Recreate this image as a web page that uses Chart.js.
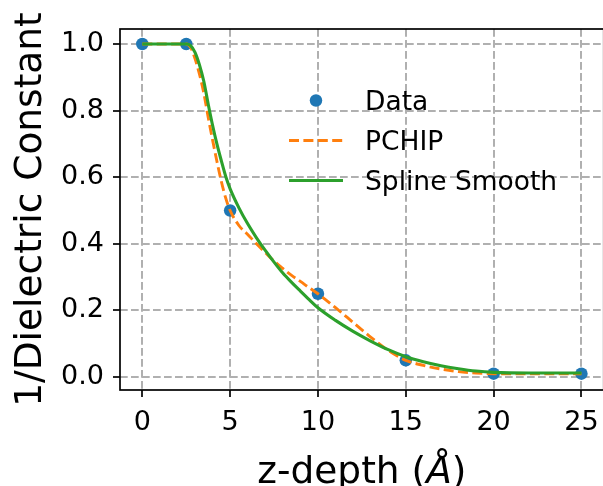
<!DOCTYPE html>
<html><head><meta charset="utf-8">
<script src="https://cdn.jsdelivr.net/npm/chart.js@4.4.1/dist/chart.umd.min.js"></script>
<style>html,body{margin:0;padding:0;background:#fff;overflow:hidden;}#wrap{width:610px;height:486px;position:relative;}</style>
</head><body><div id="wrap"><canvas id="c" width="610" height="486"></canvas></div>
<script>
// ---- data ----
const depthData  = [0, 2.5, 5, 10, 15, 20, 25];
const invEpsData = [1.0, 1.0, 0.5, 0.25, 0.05, 0.01, 0.01];

// PCHIP curve
const pchipDepth  = [0, 2.5, 2.75, 3.0, 3.25, 3.5, 3.75, 4.0, 4.25, 4.5, 4.75, 5.0, 5.5, 6.0, 6.5, 7.0, 7.5, 8.0, 8.5, 9.0, 9.5, 10, 11, 12, 13, 14, 15, 16, 17, 18, 19, 20, 25];
const pchipInvEps = [1.0, 1.0, 0.99, 0.956, 0.91, 0.853, 0.78, 0.712, 0.647, 0.587, 0.537, 0.5, 0.455, 0.428, 0.40, 0.374, 0.348, 0.326, 0.305, 0.287, 0.268, 0.25, 0.208, 0.164, 0.12, 0.08, 0.05, 0.035, 0.024, 0.016, 0.012, 0.01, 0.01];

// Spline-smooth curve
const splineDepth  = [0, 2.5, 2.75, 3.0, 3.25, 3.5, 3.75, 4.0, 4.25, 4.5, 4.75, 5.0, 5.5, 6.0, 6.5, 7.0, 7.5, 8.0, 8.5, 9.0, 9.5, 10, 11, 12, 13, 14, 15, 16, 17, 18, 19, 20, 22, 25];
const splineInvEps = [1.0, 1.0, 0.995, 0.975, 0.938, 0.888, 0.82, 0.756, 0.699, 0.649, 0.602, 0.565, 0.508, 0.46, 0.418, 0.38, 0.345, 0.312, 0.284, 0.258, 0.2325, 0.208, 0.17, 0.137, 0.108, 0.082, 0.061, 0.046, 0.034, 0.025, 0.018, 0.014, 0.012, 0.012];

const xTicks = [0, 5, 10, 15, 20, 25];
const yTicks = [0.0, 0.2, 0.4, 0.6, 0.8, 1.0];
const seriesNames = ['Data', 'PCHIP', 'Spline Smooth'];
const xLabelParts = ['z-depth (', 'Å', ')'];
const yLabel = '1/Dielectric Constant';

const toPts = (xs, ys) => xs.map((x, i) => ({x: x, y: ys[i]}));
const C_BLUE = '#1f77b4', C_ORANGE = '#ff7f0e', C_GREEN = '#2ca02c';
const FONT = "'DejaVu Sans', sans-serif";

const decor = {
  id: 'decor',
  afterDraw(chart) {
    const ctx = chart.ctx, a = chart.chartArea;
    ctx.save();
    // spines
    ctx.strokeStyle = '#000';
    ctx.lineWidth = 1.7;
    ctx.setLineDash([]);
    ctx.strokeRect(a.left, a.top, a.right - a.left, a.bottom - a.top);

    // legend (no frame)
    const hx0 = 289, hx1 = 343, tx = 365;
    const rows = [100.5, 140.5, 180.5];
    ctx.beginPath();
    ctx.fillStyle = C_BLUE;
    ctx.arc((hx0 + hx1) / 2, rows[0], 6.25, 0, Math.PI * 2);
    ctx.fill();
    ctx.lineWidth = 2.9;
    ctx.strokeStyle = C_ORANGE;
    ctx.setLineDash([10, 4.4]);
    ctx.beginPath(); ctx.moveTo(hx0, rows[1]); ctx.lineTo(hx1, rows[1]); ctx.stroke();
    ctx.setLineDash([]);
    ctx.strokeStyle = C_GREEN;
    ctx.lineWidth = 3.1;
    ctx.beginPath(); ctx.moveTo(hx0, rows[2]); ctx.lineTo(hx1, rows[2]); ctx.stroke();
    ctx.fillStyle = '#000';
    ctx.font = "26.5px " + FONT;
    ctx.textAlign = 'left';
    ctx.textBaseline = 'alphabetic';
    seriesNames.forEach((n, i) => ctx.fillText(n, tx, rows[i] + 9.5));

    // x axis label
    const cx = (a.left + a.right) / 2;
    const fN = "37.5px " + FONT, fI = "italic 37.5px " + FONT;
    ctx.font = fN; const w0 = ctx.measureText(xLabelParts[0]).width;
    ctx.font = fI; const w1 = ctx.measureText(xLabelParts[1]).width;
    ctx.font = fN; const w2 = ctx.measureText(xLabelParts[2]).width;
    let x = cx - (w0 + w1 + w2) / 2;
    const by = 483;
    ctx.font = fN; ctx.fillText(xLabelParts[0], x, by); x += w0;
    ctx.font = fI; ctx.fillText(xLabelParts[1], x, by); x += w1;
    ctx.font = fN; ctx.fillText(xLabelParts[2], x, by);

    // y axis label
    ctx.save();
    ctx.translate(41, (a.top + a.bottom) / 2);
    ctx.rotate(-Math.PI / 2);
    ctx.font = fN;
    ctx.textAlign = 'center';
    ctx.fillText(yLabel, 0, 0);
    ctx.restore();
    ctx.restore();
  }
};

new Chart(document.getElementById('c'), {
  type: 'scatter',
  data: {
    datasets: [
      {
        label: seriesNames[2],
        data: toPts(splineDepth, splineInvEps),
        showLine: true,
        borderColor: C_GREEN,
        borderWidth: 3.1,
        pointRadius: 0,
        cubicInterpolationMode: 'monotone',
        order: 1
      },
      {
        label: seriesNames[1],
        data: toPts(pchipDepth, pchipInvEps),
        showLine: true,
        borderColor: C_ORANGE,
        borderWidth: 2.9,
        borderDash: [10, 4.4],
        pointRadius: 0,
        cubicInterpolationMode: 'monotone',
        order: 2
      },
      {
        label: seriesNames[0],
        data: toPts(depthData, invEpsData),
        showLine: false,
        backgroundColor: C_BLUE,
        borderColor: C_BLUE,
        borderWidth: 0,
        pointRadius: 6.25,
        order: 3
      }
    ]
  },
  options: {
    responsive: false,
    animation: false,
    devicePixelRatio: 1,
    layout: {padding: {left: 0, top: 29, right: 6, bottom: 0}},
    plugins: {legend: {display: false}, tooltip: {enabled: false}},
    scales: {
      x: {
        type: 'linear',
        min: -1.27, max: 26.27,
        afterBuildTicks: s => { s.ticks = xTicks.map(v => ({value: v})); },
        afterFit: s => { s.height = 96; },
        ticks: {
          font: {family: FONT, size: 27},
          color: '#000',
          padding: 10,
          maxRotation: 0,
          autoSkip: false,
          callback: v => String(v)
        },
        grid: {color: '#b0b0b0', lineWidth: 2, tickColor: '#000', tickLength: 7, tickWidth: 1.7, tickBorderDash: []},
        border: {display: false, dash: [7.7, 3.3]}
      },
      y: {
        type: 'linear',
        min: -0.039, max: 1.045,
        afterBuildTicks: s => { s.ticks = yTicks.map(v => ({value: v})); },
        afterFit: s => { s.width = 120; },
        ticks: {
          font: {family: FONT, size: 27},
          color: '#000',
          padding: 9,
          autoSkip: false,
          callback: v => Number(v).toFixed(1)
        },
        grid: {color: '#b0b0b0', lineWidth: 2, tickColor: '#000', tickLength: 7, tickWidth: 1.7, tickBorderDash: []},
        border: {display: false, dash: [7.7, 3.3]}
      }
    }
  },
  plugins: [decor]
});
</script>
</body></html>
